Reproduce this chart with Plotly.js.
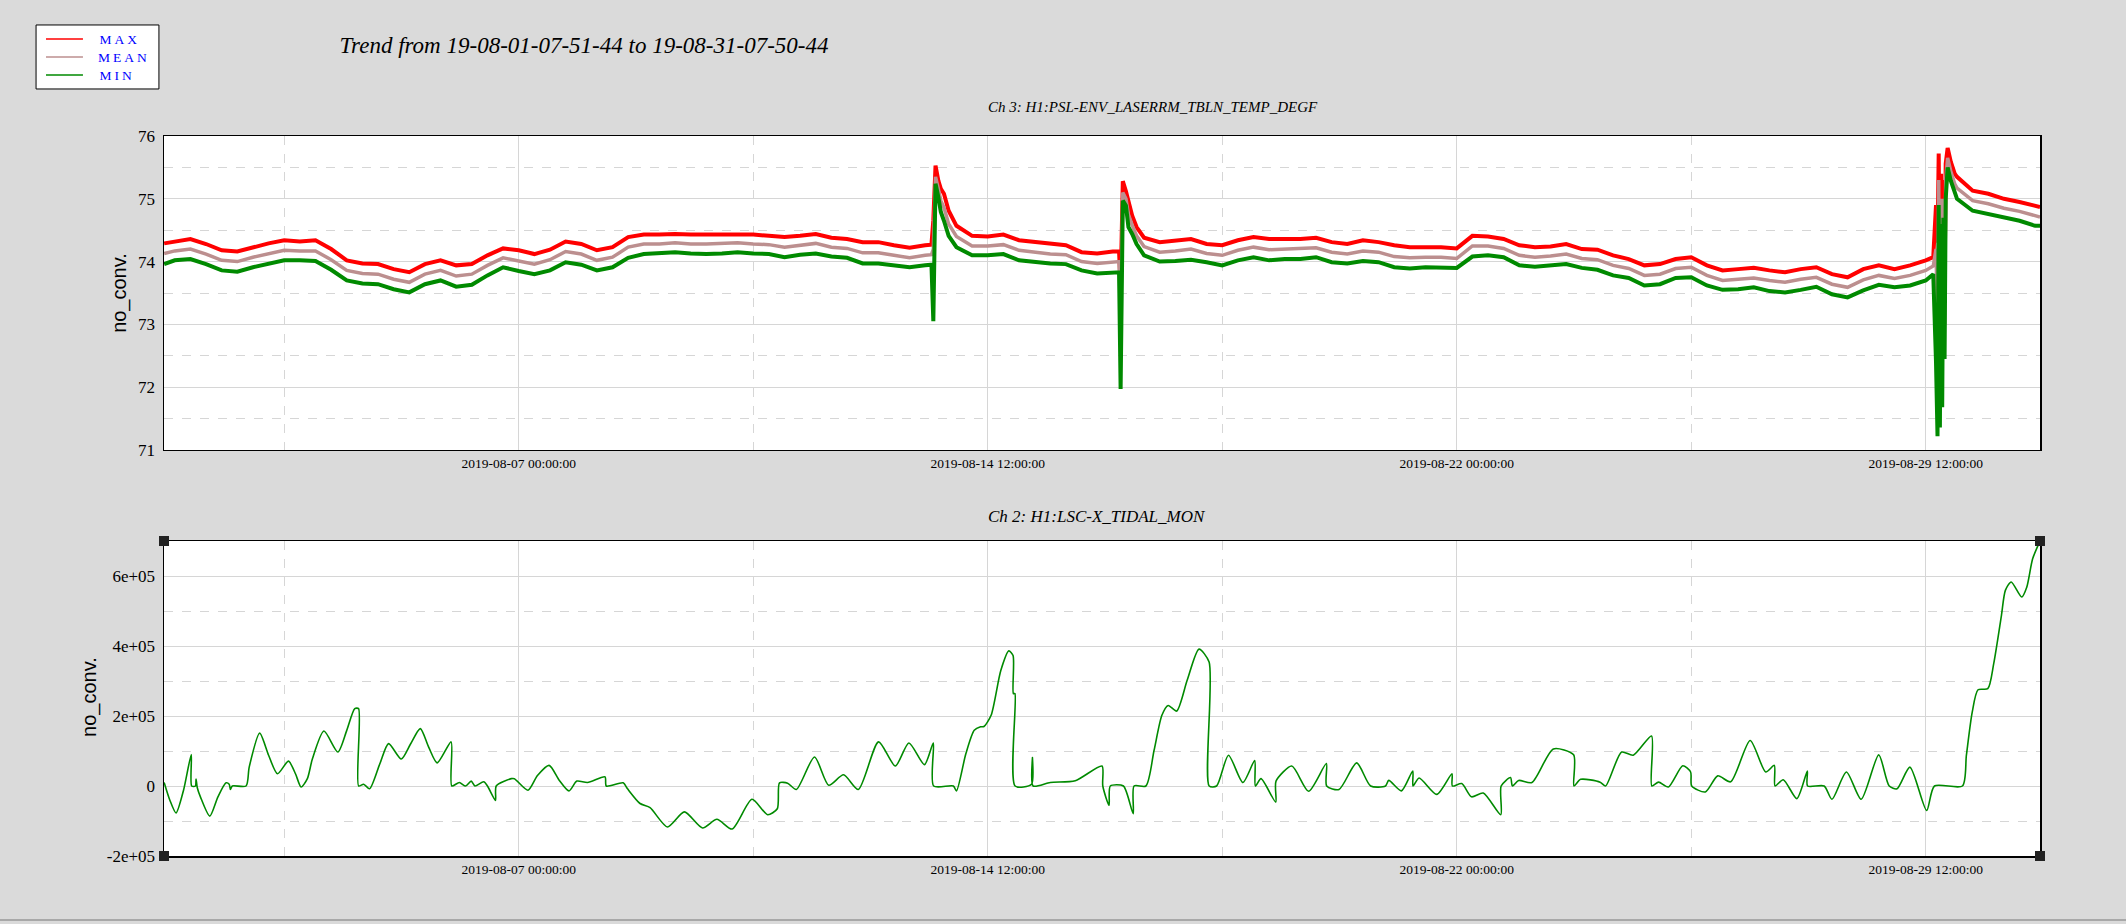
<!DOCTYPE html>
<html>
<head>
<meta charset="utf-8">
<script src="https://cdn.plot.ly/plotly-3.0.1.min.js"></script>
<style>
  html, body { margin: 0; padding: 0; background: #dadada; }
  #chart { width: 2126px; height: 924px; }
</style>
</head>
<body>
<div id="chart"></div>
<script>
// time stamps are stored as days since 2019-08-01 00:00:00
var tStart = "2019-08-01 07:51:44";
var tEnd = "2019-08-31 07:50:44";

var legendNames = ["MAX", "MEAN", "MIN"];
var legendColors = ["#ff0000", "#bc8f8f", "#008a00"];

// Ch 3: H1:PSL-ENV_LASERRM_TBLN_TEMP_DEGF
var tempDays = [
  0.33, 0.5, 0.75, 1, 1.25, 1.5, 1.75, 2, 2.25, 2.5, 2.75, 3, 3.25, 3.5, 3.75, 4, 4.25, 4.5, 4.75, 5, 5.25, 5.5,
  5.75, 6, 6.25, 6.5, 6.75, 7, 7.25, 7.5, 7.75, 8, 8.25, 8.5, 8.75, 9, 9.25, 9.5, 9.75, 10, 10.25, 10.5, 10.75,
  11, 11.25, 11.5, 11.75, 12, 12.25, 12.5, 12.6, 12.63, 12.665, 12.71, 12.75, 12.8, 12.875, 13, 13.25, 13.5, 13.75,
  14, 14.25, 14.5, 14.75, 15, 15.25, 15.5, 15.6, 15.625, 15.66, 15.71, 15.75, 15.81, 15.88, 16, 16.25, 16.5, 16.75,
  17, 17.25, 17.5, 17.75, 18, 18.25, 18.5, 18.75, 19, 19.25, 19.5, 19.75, 20, 20.25, 20.5, 20.75, 21,
  21.25, 21.5, 21.75, 22, 22.25, 22.5, 22.75, 23, 23.25, 23.5, 23.75, 24, 24.25, 24.5, 24.75, 25, 25.25, 25.5,
  25.75, 26, 26.25, 26.5, 26.75, 27, 27.25, 27.5, 27.75, 28, 28.25, 28.5, 28.62, 28.664, 28.688, 28.707, 28.726,
  28.745, 28.763, 28.782, 28.801, 28.819, 28.85, 28.9, 28.963, 29, 29.25, 29.5, 29.75, 30, 30.25, 30.327
];
var tempMax = [
  74.29, 74.32, 74.36, 74.28, 74.18, 74.16, 74.23, 74.29, 74.34, 74.32, 74.34, 74.20, 74.02, 73.97, 73.96, 73.88, 73.83, 73.96, 74.02, 73.94, 73.96, 74.10,
  74.21, 74.18, 74.12, 74.19, 74.32, 74.28, 74.18, 74.23, 74.39, 74.43, 74.43, 74.44, 74.43, 74.43, 74.44, 74.44, 74.43, 74.41, 74.39, 74.41, 74.44,
  74.38, 74.36, 74.31, 74.31, 74.26, 74.22, 74.26, 74.27, 74.66, 75.53, 75.29, 75.16, 75.08, 74.81, 74.57, 74.41, 74.40, 74.43,
  74.34, 74.31, 74.28, 74.26, 74.15, 74.13, 74.16, 74.16, 73.60, 75.28, 75.12, 74.95, 74.73, 74.55, 74.38, 74.31, 74.34, 74.36,
  74.28, 74.26, 74.34, 74.39, 74.36, 74.36, 74.36, 74.38, 74.31, 74.28, 74.34, 74.31, 74.26, 74.23, 74.23, 74.23, 74.21,
  74.41, 74.40, 74.36, 74.26, 74.23, 74.24, 74.28, 74.20, 74.19, 74.10, 74.04, 73.94, 73.96, 74.04, 74.07, 73.94, 73.86, 73.88,
  73.90, 73.86, 73.83, 73.88, 73.91, 73.80, 73.75, 73.88, 73.94, 73.88, 73.94, 74.02, 74.07, 74.90, 74.30, 75.72, 73.50,
  75.40, 73.30, 75.30, 73.60, 75.56, 75.81, 75.59, 75.40, 75.35, 75.13, 75.08, 75.00, 74.95, 74.88, 74.87
];
var tempMean = [
  74.13, 74.17, 74.20, 74.12, 74.02, 74.00, 74.07, 74.13, 74.18, 74.17, 74.17, 74.03, 73.86, 73.81, 73.80, 73.72, 73.67, 73.80, 73.86, 73.77, 73.80, 73.94,
  74.06, 74.01, 73.96, 74.03, 74.16, 74.12, 74.02, 74.07, 74.23, 74.28, 74.28, 74.30, 74.28, 74.28, 74.29, 74.30, 74.28, 74.27, 74.23, 74.26, 74.29,
  74.23, 74.21, 74.14, 74.14, 74.10, 74.06, 74.10, 74.11, 74.20, 75.35, 75.16, 74.97, 74.86, 74.60, 74.40, 74.25, 74.25, 74.27,
  74.18, 74.15, 74.12, 74.11, 74.00, 73.97, 74.00, 74.00, 73.00, 75.10, 75.00, 74.75, 74.58, 74.41, 74.24, 74.15, 74.17, 74.20,
  74.13, 74.10, 74.18, 74.23, 74.19, 74.20, 74.20, 74.22, 74.15, 74.12, 74.17, 74.15, 74.08, 74.06, 74.07, 74.07, 74.05,
  74.25, 74.25, 74.21, 74.10, 74.07, 74.09, 74.12, 74.05, 74.03, 73.94, 73.89, 73.78, 73.80, 73.89, 73.91, 73.78, 73.70, 73.72,
  73.74, 73.70, 73.67, 73.72, 73.75, 73.64, 73.59, 73.71, 73.78, 73.73, 73.78, 73.86, 73.93, 74.20, 73.00, 75.30, 72.30,
  75.00, 72.80, 75.00, 73.00, 75.30, 75.65, 75.44, 75.24, 75.17, 74.97, 74.92, 74.85, 74.80, 74.72, 74.71
];
var tempMin = [
  73.96, 74.02, 74.04, 73.96, 73.86, 73.84, 73.91, 73.97, 74.02, 74.02, 74.01, 73.87, 73.70, 73.65, 73.64, 73.56, 73.51, 73.64, 73.70, 73.60, 73.63, 73.78,
  73.91, 73.85, 73.80, 73.86, 73.99, 73.95, 73.86, 73.91, 74.06, 74.12, 74.13, 74.15, 74.13, 74.12, 74.13, 74.15, 74.13, 74.12, 74.07, 74.11, 74.13,
  74.08, 74.06, 73.97, 73.97, 73.94, 73.91, 73.94, 73.95, 73.05, 75.24, 75.03, 74.79, 74.65, 74.41, 74.23, 74.10, 74.10, 74.12,
  74.02, 73.99, 73.97, 73.96, 73.86, 73.81, 73.83, 73.83, 71.97, 74.97, 74.89, 74.55, 74.44, 74.28, 74.10, 74.00, 74.01, 74.03,
  73.99, 73.94, 74.02, 74.07, 74.02, 74.04, 74.04, 74.07, 73.99, 73.97, 74.01, 73.99, 73.91, 73.89, 73.91, 73.91, 73.90,
  74.08, 74.10, 74.07, 73.94, 73.92, 73.94, 73.96, 73.90, 73.87, 73.78, 73.74, 73.62, 73.64, 73.74, 73.75, 73.62, 73.55, 73.56,
  73.59, 73.53, 73.51, 73.55, 73.60, 73.48, 73.43, 73.54, 73.63, 73.59, 73.62, 73.70, 73.80, 72.40, 71.22, 74.90, 71.36,
  74.60, 71.68, 74.70, 72.45, 75.00, 75.50, 75.29, 75.08, 75.00, 74.81, 74.76, 74.71, 74.65, 74.57, 74.57
];

// Ch 2: H1:LSC-X_TIDAL_MON
var tidalDays = [
  0.33, 0.42, 0.52, 0.64, 0.764, 0.77, 0.83, 0.84, 0.86, 0.91, 1.06, 1.19, 1.32, 1.37, 1.39, 1.42, 1.64, 1.69,
  1.858, 2.0, 2.142, 2.318, 2.43, 2.52, 2.62, 2.70, 2.885, 3.108, 3.25, 3.378, 3.439, 3.44, 3.52, 3.615, 3.78,
  3.919, 4.122, 4.27, 4.426, 4.56, 4.696, 4.919, 4.93, 5.05, 5.15, 5.24, 5.30, 5.44, 5.50, 5.628, 5.64, 5.88,
  5.93, 6.149, 6.30, 6.486, 6.65, 6.804, 6.93, 7.10, 7.38, 7.40, 7.67, 7.74, 7.94, 8.10, 8.378, 8.649, 8.939,
  9.169, 9.412, 9.73, 9.98, 10.135, 10.17, 10.30, 10.439, 10.73, 10.958, 11.194, 11.43, 11.754, 12.023, 12.239,
  12.489, 12.63, 12.635, 12.95, 13.0, 13.15, 13.284, 13.385, 13.44, 13.554, 13.709, 13.837, 13.905, 13.91,
  13.935, 13.938, 14.2, 14.215, 14.225, 14.5, 14.9, 15.327, 15.34, 15.44, 15.46, 15.67, 15.826, 15.84, 16.029,
  16.16, 16.285, 16.386, 16.521, 16.689, 16.878, 17.04, 17.041, 17.16, 17.35, 17.58, 17.769, 17.78, 17.87,
  18.105, 18.11, 18.362, 18.631, 18.915, 18.92, 19.117, 19.4, 19.623, 19.86, 19.913, 20.115, 20.297, 20.3,
  20.398, 20.681, 20.924, 20.93, 21.08, 21.237, 21.424, 21.704, 21.71, 21.86, 21.89, 21.99, 22.202, 22.545,
  22.869, 22.875, 22.981, 23.293, 23.38, 23.636, 23.822, 24.115, 24.12, 24.227, 24.383, 24.614, 24.74, 24.757,
  24.975, 25.174, 25.38, 25.692, 25.941, 26.078, 26.09, 26.221, 26.439, 26.607, 26.61, 26.875, 27.0, 27.231,
  27.467, 27.748, 27.916, 28.04, 28.246, 28.514, 28.639, 29.087, 29.15, 29.243, 29.336, 29.492, 29.586, 29.71,
  29.773, 29.866, 30.034, 30.115, 30.209, 30.327
];
var tidalMin = [
  10000, -40000, -77000, -12000, 90000, 0, 0, 20000, -5000, -31000, -86000, -31000, 9000, 5000, -10000, 0, 0, 54000,
  151000, 88000, 35000, 71000, 35000, -3000, 21000, 77000, 157000, 97000, 159000, 221000, 221000, 0, 5000, -8000, 64000,
  121000, 77000, 120000, 164000, 111000, 66000, 126000, 0, 10000, 0, 14000, 0, 12000, 0, -41000, 0, 21000,
  21000, -12000, 30000, 59000, 16000, -14000, 14000, 10000, 26000, 0, 9000, -8000, -50000, -62000, -117000, -74000, -120000,
  -95000, -123000, -38000, -82000, -65000, 9000, 8000, -10000, 83000, 2000, 32000, -10000, 126000, 57000, 123000,
  61000, 123000, 0, 0, -14000, 92000, 159000, 169000, 170000, 202000, 330000, 386000, 373000, 264000,
  264000, 0, 5000, 81000, 0, 10000, 15000, 57000, 0, -55000, 0, 0, -79000, 0, 0,
  102000, 202000, 230000, 214000, 302000, 391000, 354000, 0, 0, 88000, 10000, 73000, 0, 21000,
  -46000, 14000, 57000, -15000, 64000, 0, -10000, 66000, 0, 0, 16000, -14000, 43000, 0,
  23000, -24000, 35000, 0, 7000, -31000, -20000, -82000, 0, 24000, 0, 16000, 10000, 106000,
  89000, 0, 19000, 11000, 0, 97000, 88000, 143000, 0, 11000, -3000, 58000, 40000, 0,
  -17000, 29000, 12000, 130000, 40000, 59000, 0, 18000, -36000, 43000, 0, 0, -38000, 40000,
  -38000, 89000, 0, -8000, 54000, -70000, 0, 0, 88000, 211000, 275000, 278000, 349000, 487000,
  559000, 583000, 540000, 568000, 649000, 700000
];

var xTickStart = "2019-08-07 00:00:00";
var yTidalTicks = [-200000, 0, 200000, 400000, 600000];
var yTidalLabels = ["-2e+05", "0", "2e+05", "4e+05", "6e+05"];

function toDate(d) {
  var ms = Date.UTC(2019, 7, 1) + d * 86400000;
  return new Date(ms).toISOString().replace("T", " ").slice(0, 19);
}

var tempX = tempDays.map(toDate);
var tidalX = tidalDays.map(toDate);

var serif = "Liberation Serif, Times New Roman, serif";
var gridCol = "#d6d6d6";

var maxTrace = {
  x: tempX, y: tempMax, type: "scatter", mode: "lines", name: "MAX",
  line: { color: legendColors[0], width: 4 }, xaxis: "x", yaxis: "y"
};
var meanTrace = {
  x: tempX, y: tempMean, type: "scatter", mode: "lines", name: "MEAN",
  line: { color: legendColors[1], width: 3.5 }, xaxis: "x", yaxis: "y"
};
var minTrace = {
  x: tempX, y: tempMin, type: "scatter", mode: "lines", name: "MIN",
  line: { color: legendColors[2], width: 4 }, xaxis: "x", yaxis: "y"
};
var tidalTrace = {
  x: tidalX, y: tidalMin, type: "scatter", mode: "lines", name: "MIN",
  line: { color: legendColors[2], width: 1.6, shape: "spline", smoothing: 0.7 }, xaxis: "x2", yaxis: "y2"
};

function xAxis(anchor) {
  return {
    anchor: anchor,
    type: "date",
    range: [tStart, tEnd],
    tick0: xTickStart,
    dtick: 648000000,
    tickformat: "%Y-%m-%d %H:%M:%S",
    tickfont: { family: serif, size: 13.5, color: "#000" },
    showgrid: true, gridcolor: gridCol, gridwidth: 1,
    minor: { tick0: xTickStart, dtick: 324000000, showgrid: true, gridcolor: gridCol, griddash: "dash", gridwidth: 1 },
    showline: true, mirror: true, linecolor: "#000", linewidth: 1.5,
    ticks: "", zeroline: false
  };
}

var layout = {
  width: 2126, height: 924,
  paper_bgcolor: "#dadada", plot_bgcolor: "#ffffff",
  margin: { l: 164, r: 86, t: 136, b: 68 },
  showlegend: false,
  title: {
    text: "Trend from 19-08-01-07-51-44 to 19-08-31-07-50-44",
    xref: "container", yref: "container", x: 0.2747, y: 0.951, xanchor: "center", yanchor: "middle",
    font: { family: serif, size: 23, style: "italic", color: "#000" }
  },
  xaxis: xAxis("y"),
  xaxis2: xAxis("y2"),
  yaxis: {
    domain: [0.5639, 1], range: [71, 76], dtick: 1, tick0: 71,
    tickfont: { family: serif, size: 17, color: "#000" },
    showgrid: true, gridcolor: gridCol,
    minor: { dtick: 0.5, showgrid: true, gridcolor: gridCol, griddash: "dash" },
    showline: true, mirror: true, linecolor: "#000", linewidth: 1.5,
    ticks: "", zeroline: false, ticklabelstandoff: 4
  },
  yaxis2: {
    domain: [0, 0.4375], range: [-200000, 700000],
    tickmode: "array", tickvals: yTidalTicks, ticktext: yTidalLabels,
    tickfont: { family: serif, size: 17, color: "#000" },
    showgrid: true, gridcolor: gridCol,
    minor: { dtick: 100000, tick0: 0, showgrid: true, gridcolor: gridCol, griddash: "dash" },
    showline: true, mirror: true, linecolor: "#000", linewidth: 1.5,
    ticks: "", zeroline: false, ticklabelstandoff: 4
  },
  annotations: [
    { text: "Ch 3: H1:PSL-ENV_LASERRM_TBLN_TEMP_DEGF", xref: "paper", yref: "paper", x: 0.438, y: 1.040,
      xanchor: "left", yanchor: "middle", showarrow: false,
      font: { family: serif, size: 15, style: "italic", color: "#000" } },
    { text: "Ch 2: H1:LSC-X_TIDAL_MON", xref: "paper", yref: "paper", x: 0.438, y: 0.471,
      xanchor: "left", yanchor: "middle", showarrow: false,
      font: { family: serif, size: 17, style: "italic", color: "#000" } },
    { text: "no_conv.", xref: "paper", yref: "paper", x: -0.0235, y: 0.782, textangle: -90,
      xanchor: "center", yanchor: "middle", showarrow: false,
      font: { family: "Liberation Sans, Arial, sans-serif", size: 20, color: "#000" } },
    { text: "no_conv.", xref: "paper", yref: "paper", x: -0.0394, y: 0.221, textangle: -90,
      xanchor: "center", yanchor: "middle", showarrow: false,
      font: { family: "Liberation Sans, Arial, sans-serif", size: 20, color: "#000" } }
  ],
  shapes: []
};

// legend box drawn by hand (thin line samples, spaced blue labels)
layout.shapes.push({
  type: "rect", xref: "paper", yref: "paper", x0: -0.0682, x1: -0.0027, y0: 1.0653, y1: 1.1542,
  fillcolor: "#ffffff", line: { color: "#000", width: 1 }
});
var legendY = [1.1347, 1.1097, 1.0847];
legendNames.forEach(function (name, i) {
  layout.shapes.push({
    type: "line", xref: "paper", yref: "paper", x0: -0.0629, x1: -0.0432, y0: legendY[i], y1: legendY[i],
    line: { color: legendColors[i], width: 1.5 }
  });
  layout.annotations.push({
    text: name, xref: "paper", yref: "paper", x: -0.0330, y: legendY[i],
    xanchor: "left", yanchor: "middle", showarrow: false,
    font: { family: serif, size: 13.5, color: "#0000ff" }
  });
});

// little dark squares at the corners of the lower panel
[[0, 0], [1, 0], [0, 0.4375], [1, 0.4375]].forEach(function (c) {
  layout.shapes.push({
    type: "rect", xref: "paper", yref: "paper",
    xsizemode: "pixel", ysizemode: "pixel", xanchor: c[0], yanchor: c[1],
    x0: -5, x1: 5, y0: -5, y1: 5,
    fillcolor: "#222", line: { width: 0 }
  });
});
// window edge line at the bottom
layout.shapes.push({
  type: "line", xref: "paper", yref: "paper", x0: -0.09, x1: 1.05, y0: -0.089, y1: -0.089,
  line: { color: "#a8a8a8", width: 2 }
});

Plotly.newPlot("chart", [maxTrace, meanTrace, minTrace, tidalTrace], layout, { staticPlot: true })
  .then(function () {
    document.querySelectorAll(".annotation-text").forEach(function (t) {
      if (legendNames.indexOf(t.textContent) >= 0) t.style.letterSpacing = "3px";
    });
  });
</script>
</body>
</html>
